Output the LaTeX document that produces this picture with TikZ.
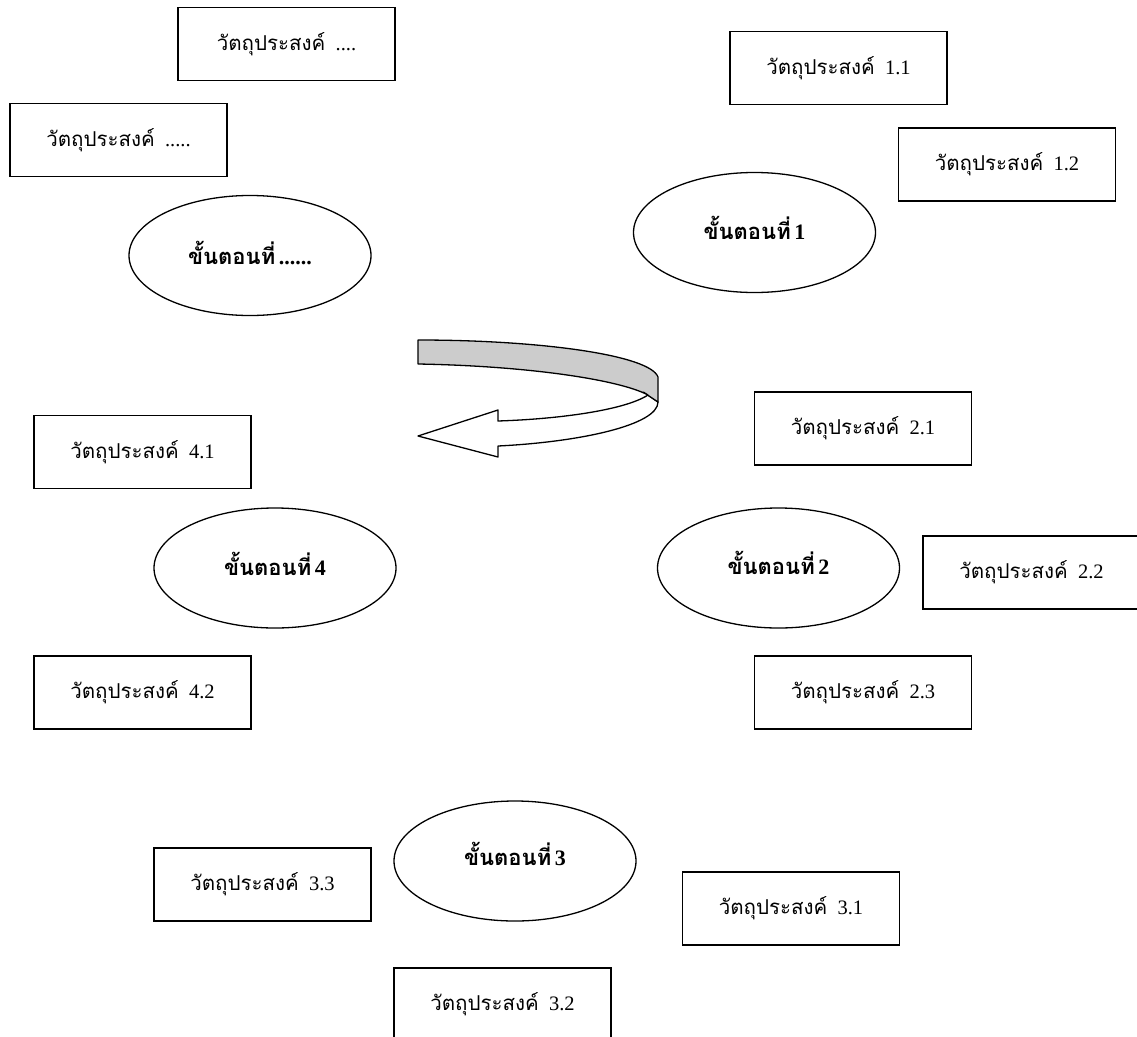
\documentclass[tikz,border=0pt]{standalone}
\usepackage{fontspec}
\setmainfont{Liberation Serif}
\newfontfamily\thai[Script=Thai]{Loma}
\usetikzlibrary{shapes.geometric}
\tikzset{
  objbox/.style={draw=black, line width=1.4pt, fill=white, minimum width=217pt, minimum height=73pt, inner sep=0pt, font=\fontsize{20.5}{24}\selectfont},
  stage/.style={draw=black, line width=1.3pt, ellipse, fill=white, minimum width=242pt, minimum height=120pt, inner sep=0pt},
  stagetext/.style={inner sep=0pt, font=\fontsize{22}{26}\selectfont\bfseries},
  ribbon/.style={draw=black, line width=1.3pt, line join=round}
}
\newcommand{\obj}[1]{{\thai วัตถุประสงค์}\ \ #1}
\newcommand{\stg}[1]{{\thai\bfseries ขั้นตอนที่}\,#1}
\begin{document}
\begin{tikzpicture}[x=1pt,y=-1pt]
\useasboundingbox (0,0) rectangle (1137,1036);
\clip (0,0) rectangle (1137,1036);
\fill[white] (0,0) rectangle (1137,1036);
% objective boxes
\node[objbox] (oA) at (286.5,44) {\obj{....}};
\node[objbox] (oB) at (118.5,140) {\obj{.....}};
\node[objbox] (o11) at (838.5,68) {\obj{1.1}};
\node[objbox] (o12) at (1007,164.5) {\obj{1.2}};
\node[objbox] (o21) at (863,428.5) {\obj{2.1}};
\node[objbox] (o22) at (1031.5,572.5) {\obj{2.2}};
\node[objbox] (o23) at (863,692.5) {\obj{2.3}};
\node[objbox] (o41) at (142.5,452) {\obj{4.1}};
\node[objbox] (o42) at (142.5,692.5) {\obj{4.2}};
\node[objbox] (o33) at (262.5,884.5) {\obj{3.3}};
\node[objbox] (o31) at (791,908.5) {\obj{3.1}};
\node[objbox] (o32) at (502.5,1004.5) {\obj{3.2}};
% stage ellipses
\node[stage] (s0) at (250,255.5) {};
\node[stage] (s1) at (754.5,232.5) {};
\node[stage] (s2) at (778.5,568) {};
\node[stage] (s4) at (275,568) {};
\node[stage] (s3) at (515,861) {};
\node[stagetext] (t0) at ([yshift=3pt]s0.center) {\stg{......}};
\node[stagetext] (t1) at ([yshift=5pt]s1.center) {\stg{1}};
\node[stagetext] (t2) at ([yshift=5pt]s2.center) {\stg{2}};
\node[stagetext] (t4) at ([yshift=4pt]s4.center) {\stg{4}};
\node[stagetext] (t3) at ([yshift=7pt]s3.center) {\stg{3}};
% curved 3D arrow
\coordinate (aIn) at (648,395);
\coordinate (aOut) at (658,402);
\coordinate (aTip) at (418,436);
\draw[ribbon, fill=white] (aIn) .. controls (625,410) and (560,419) .. (498,421)
  -- (498,410) -- (aTip) -- (498,457) -- (498,446)
  .. controls (580,442) and (658,425) .. (aOut) -- cycle;
\coordinate (gTL) at (418,340);
\coordinate (gTR) at (658,377);
\coordinate (gBL) at (418,364);
\draw[ribbon, fill=black!20] (gTL) .. controls (540,340) and (650,355) .. (gTR)
  -- (aOut) .. controls (640,390) .. (aIn)
  .. controls (620,380) and (530,366) .. (gBL) -- cycle;
\end{tikzpicture}
\end{document}
